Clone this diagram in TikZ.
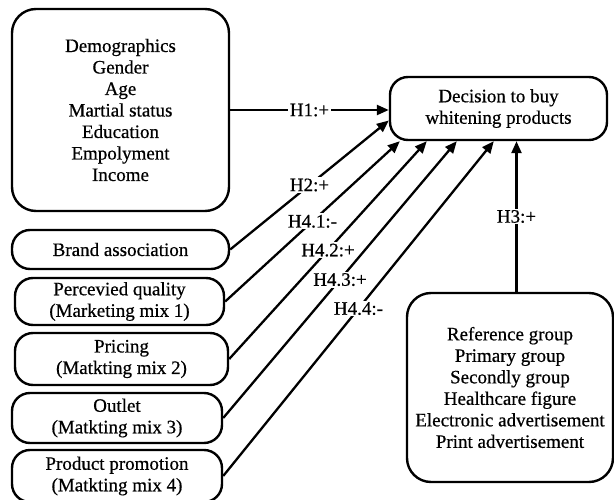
\documentclass[tikz,border=0pt]{standalone}
\usepackage{fontspec}
\setmainfont{Liberation Serif}[UprightFeatures={FakeBold=0.6}]
\usepackage{tikz}
\usetikzlibrary{positioning,calc}
\usetikzlibrary{arrows.meta}
\tikzset{
  bigbox/.style={draw=black,line width=2.4pt,rounded corners=24pt,inner sep=0pt,align=center},
  pill/.style={draw=black,line width=2.4pt,rounded corners=18pt,inner sep=0pt,align=center},
  arr/.style={draw=black,line width=2.3pt,-{Triangle[length=12pt,width=10pt]}},
  hyp/.style={fill=white,inner sep=1.5pt},
}

\begin{document}
\begin{tikzpicture}[x=1pt,y=-1pt,font=\fontsize{19}{21.5}\selectfont]
\useasboundingbox (0,0) rectangle (614,500);
% factors
\node[bigbox,minimum width=217pt,minimum height=202pt] (demo) at (120.5,110)
  {Demographics\\Gender\\Age\\Martial status\\Education\\Empolyment\\Income};
\node[pill,minimum width=217pt,minimum height=39pt] (brand) at (120.5,249.5) {Brand association};
\node[pill,minimum width=209pt,minimum height=47pt] (quality) at (119.5,301.5) {Percevied quality\\(Marketing mix 1)};
\node[pill,minimum width=213pt,minimum height=52pt] (pricing) at (121.5,359) {Pricing\\(Matkting mix 2)};
\node[pill,minimum width=210pt,minimum height=50pt] (outlet) at (117,418) {Outlet\\(Matkting mix 3)};
\node[pill,minimum width=210pt,minimum height=52pt] (promo) at (117,476) {Product promotion\\(Matkting mix 4)};
\node[bigbox,minimum width=206pt,minimum height=189pt] (social) at (510,387.5)
  {Reference group\\Primary group\\Secondly group\\Healthcare figure\\Electronic advertisement\\Print advertisement};
% outcome
\node[pill,minimum width=217pt,minimum height=63pt] (decide) at (498.5,108.5) {Decision to buy\\whitening products};
% hypotheses
\draw[arr] (demo.east) -- (demo.east -| decide.west) node[hyp,midway]{H1:+};
\draw[arr] (brand.east) -- ([yshift=-12pt]decide.west) node[hyp,midway]{H2:+};
\draw[arr] (quality.east) -- ([xshift=11pt]decide.south west) node[hyp,midway]{H4.1:-};
\draw[arr] (pricing.east) -- ([xshift=38pt]decide.south west) node[hyp,midway]{H4.2:+};
\draw[arr] (outlet.east) -- ([xshift=68pt]decide.south west) node[hyp,midway]{H4.3:+};
\draw[arr] (promo.east) -- ([xshift=105pt]decide.south west) node[hyp,midway]{H4.4:-};
\draw[arr] ([xshift=6.5pt]social.north) -- ([xshift=6.5pt]social.north |- decide.south) node[hyp,midway]{H3:+};
\end{tikzpicture}
\end{document}
